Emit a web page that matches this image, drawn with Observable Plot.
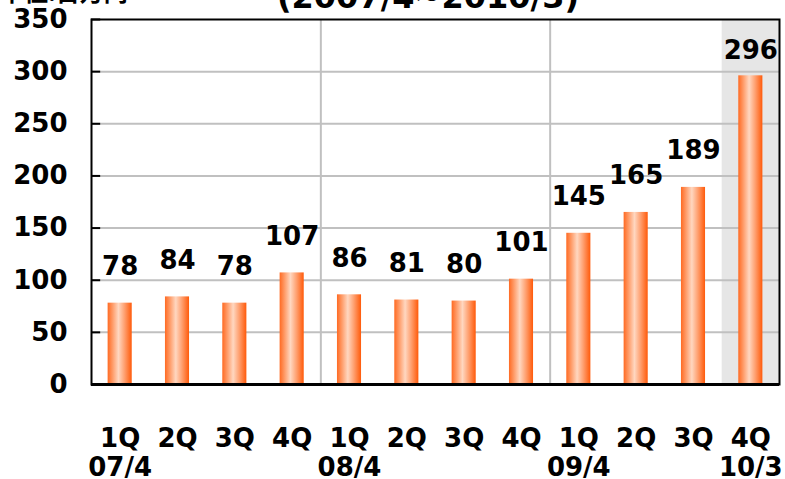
<!DOCTYPE html>
<html>
<head>
<meta charset="utf-8">
<script src="https://cdn.jsdelivr.net/npm/d3@7"></script>
<script src="https://cdn.jsdelivr.net/npm/@observablehq/plot@0.6"></script>
<style>
  html, body { margin: 0; padding: 0; background: #fff; overflow: hidden; }
  #wrap { position: relative; width: 785px; height: 479px; }
  .hdr { position: absolute; font-weight: bold; white-space: nowrap; color: #000; z-index: 2; line-height: 1; }
  #unit { left: 0px; top: -21px; font-size: 24px; font-family: "Noto Sans CJK JP", sans-serif; }
  #title { left: 428px; transform: translateX(-50%); top: -19px; font-size: 32px; font-family: "DejaVu Sans", sans-serif; }
  svg { display: block; }
</style>
</head>
<body>
<div id="wrap">
  <div class="hdr" id="unit">単位:百万円</div>
  <div class="hdr" id="title">(2007/4~2010/3)</div>
  <div id="chart"></div>
</div>
<script>
const quarters = ["1Q","2Q","3Q","4Q","1Q","2Q","3Q","4Q","1Q","2Q","3Q","4Q"];
const periods  = ["07/4","","","","08/4","","","","09/4","","","10/3"];
const values   = [78, 84, 78, 107, 86, 81, 80, 101, 145, 165, 189, 296];
const yTicks   = [0, 50, 100, 150, 200, 250, 300, 350];
const yearStarts = [4, 8];
const highlightIndex = [11];

const rows = values.map((v, i) => ({i, q: quarters[i], p: periods[i], v}));
const mainRows = rows.filter(d => !highlightIndex.includes(d.i));
const hlRows = rows.filter(d => highlightIndex.includes(d.i));

const font = "DejaVu Sans";
const plot = Plot.plot({
  width: 785,
  height: 479,
  marginLeft: 91,
  marginRight: 6,
  marginTop: 19,
  marginBottom: 95,
  style: {fontFamily: font, fontWeight: "bold", fontSize: "26px", color: "#000", background: "transparent"},
  x: {domain: [0, 12], axis: null},
  y: {domain: [0, 350], ticks: yTicks, tickSize: 0, tickPadding: 24, tickFormat: d => String(d), label: null},
  marks: [
    Plot.rectY(highlightIndex, {x1: d => d, x2: d => d + 1, y1: 0, y2: 350, fill: "#e6e6e6"}),
    Plot.ruleY(yTicks.filter(t => t > 0 && t < 350), {stroke: "#c0c0c0", strokeWidth: 2}),
    Plot.ruleX(yearStarts, {stroke: "#c0c0c0", strokeWidth: 2}),
    Plot.rectY(rows, {x1: d => d.i + 0.29, x2: d => d.i + 0.71, y: "v", fill: "url(#barGrad)"}),
    Plot.ruleY(yTicks, {x1: 0, x2: 0.16, stroke: "#000", strokeWidth: 2}),
    Plot.frame({stroke: "#000", strokeWidth: 2}),
    Plot.ruleY([0], {stroke: "#000", strokeWidth: 3}),
    Plot.text(mainRows, {x: d => d.i + 0.5, y: "v", text: d => String(d.v), lineAnchor: "bottom", dy: -28, fontSize: 26, fontWeight: "bold", fill: "#000"}),
    Plot.text(hlRows, {x: d => d.i + 0.5, y: "v", text: d => String(d.v), lineAnchor: "bottom", dy: -17, fontSize: 26, fontWeight: "bold", fill: "#000"}),
    Plot.text(rows, {x: d => d.i + 0.5, frameAnchor: "bottom", text: "q", lineAnchor: "top", dy: 44, fontSize: 26, fontWeight: "bold", fill: "#000"}),
    Plot.text(rows, {x: d => d.i + 0.5, frameAnchor: "bottom", text: "p", lineAnchor: "top", dy: 73, fontSize: 26, fontWeight: "bold", fill: "#000"})
  ]
});

d3.select(plot).insert("defs", ":first-child").html(`
  <linearGradient id="barGrad" x1="0" y1="0" x2="1" y2="0">
    <stop offset="0" stop-color="#ff6a22"/>
    <stop offset="0.2" stop-color="#ff9a66"/>
    <stop offset="0.45" stop-color="#ffd7c0"/>
    <stop offset="0.7" stop-color="#ffa070"/>
    <stop offset="1" stop-color="#ff5a0a"/>
  </linearGradient>`);

document.getElementById("chart").appendChild(plot);
</script>
</body>
</html>
